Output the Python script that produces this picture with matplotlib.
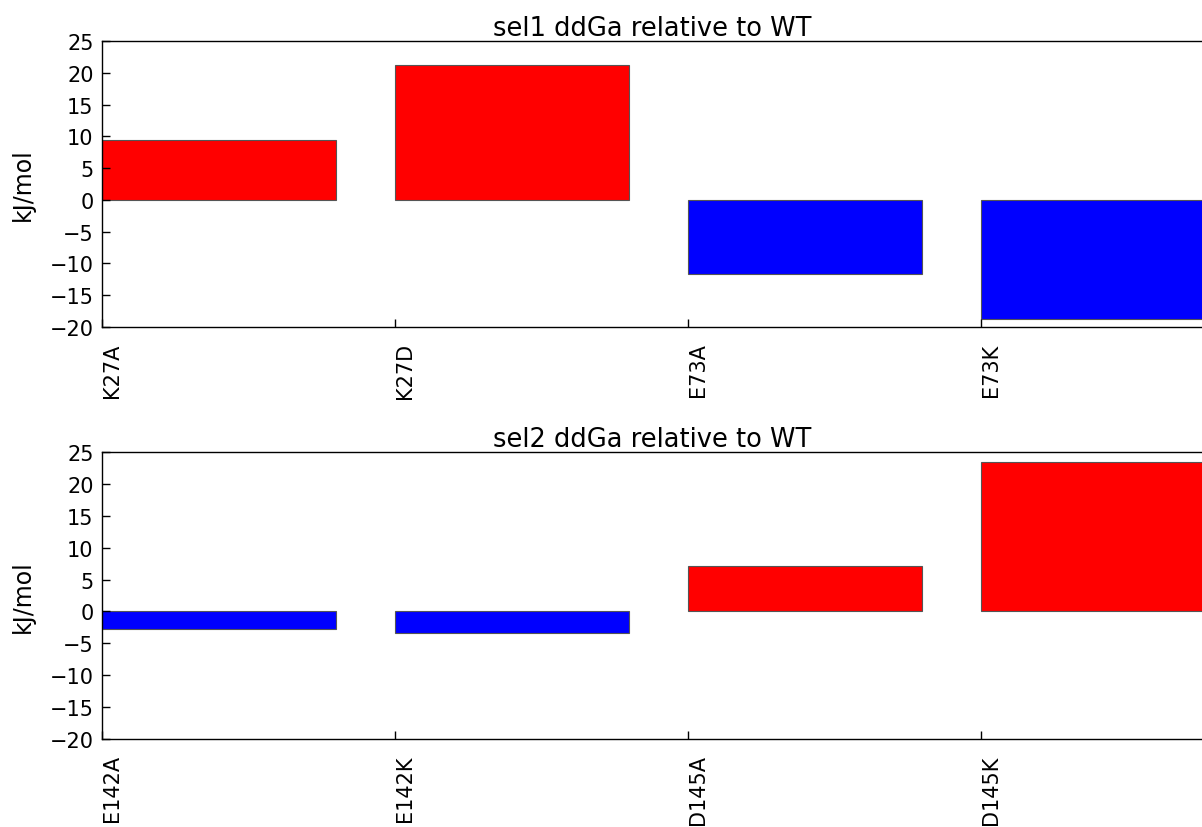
import matplotlib
matplotlib.use('Agg')
import matplotlib.pyplot as plt

# data
sel1_labels = ['K27A', 'K27D', 'E73A', 'E73K']
sel1_values = [9.4, 21.3, -11.6, -18.7]
sel2_labels = ['E142A', 'E142K', 'D145A', 'D145K']
sel2_values = [-2.8, -3.4, 7.2, 23.4]

plt.rcParams['font.size'] = 15
plt.rcParams['axes.linewidth'] = 1.0

fig = plt.figure(figsize=(12.02, 8.28), dpi=100)
ax1 = fig.add_axes([102 / 1202, 1 - 328 / 828, 1 - 102 / 1202, 286 / 828])
ax2 = fig.add_axes([102 / 1202, 1 - 740 / 828, 1 - 102 / 1202, 287 / 828])


def draw(ax, labels, values, title):
    x = range(len(values))
    colors = ['red' if v > 0 else 'blue' for v in values]
    ax.bar(x, values, width=0.8, align='edge', color=colors,
           edgecolor='#555555', linewidth=0.8)
    ax.set_xlim(0, 3.755)
    ax.set_ylim(-20, 25)
    ax.set_yticks(range(-20, 26, 5))
    ax.set_xticks(list(x))
    ax.set_xticklabels(labels, rotation=90, ha='left')
    ax.tick_params(direction='in', length=6, width=1, labelsize=15)
    ax.tick_params(axis='x', pad=11)
    ax.tick_params(axis='y', pad=6)
    ax.spines['right'].set_visible(False)
    ax.set_ylabel('kJ/mol', fontsize=17, labelpad=11)
    ax.set_title(title, fontsize=18.5, pad=3)


draw(ax1, sel1_labels, sel1_values, 'sel1 ddGa relative to WT')
draw(ax2, sel2_labels, sel2_values, 'sel2 ddGa relative to WT')

fig.savefig('out.png', dpi=100)
